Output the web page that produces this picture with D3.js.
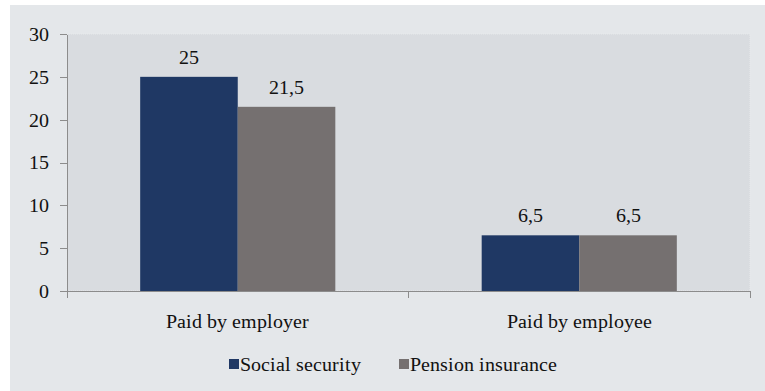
<!DOCTYPE html>
<html lang="en">
<head>
    <meta charset="UTF-8">
    <title>Contributions paid by employer and employee</title>
    <script src="https://d3js.org/d3.v7.min.js"></script>
    <style>
        @font-face {
            font-family: "ChartSerif";
            src: local("Liberation Serif"), local("LiberationSerif-Regular"), local("Times New Roman");
        }
        body { margin: 0; background: #ffffff; }
        svg text { font-family: "ChartSerif", "Liberation Serif", "Times New Roman", serif; }
        .axis path, .axis line { stroke: #8c8c8c; shape-rendering: crispEdges; }
    </style>
</head>
<body>
<script>
    // Chart data
    const categories = ["Paid by employer", "Paid by employee"];
    const series = ["Social security", "Pension insurance"];
    const socialSecurity = [25, 6.5];
    const pensionInsurance = [21.5, 6.5];
    const yTicks = [0, 5, 10, 15, 20, 25, 30];
    const colors = ["#1f3864", "#757070"];

    const fontSize = "20px";
    const width = 765, height = 391;
    const margin = { top: 34, right: 15, bottom: 100, left: 67 };

    const svg = d3.select("body").append("svg")
        .attr("width", width)
        .attr("height", height);

    // outer panel
    svg.append("rect")
        .attr("x", 10).attr("y", 5)
        .attr("width", width - 10).attr("height", height - 5)
        .attr("fill", "#e4e7ea");

    const x = d3.scaleBand()
        .domain(categories)
        .range([margin.left, width - margin.right]);

    const x1 = d3.scaleBand()
        .domain(series)
        .range([0, x.bandwidth()])
        .paddingOuter(0.75);

    const y = d3.scaleLinear()
        .domain([0, 30])
        .range([height - margin.bottom, margin.top]);

    // plot area
    svg.append("rect")
        .attr("x", margin.left).attr("y", margin.top)
        .attr("width", width - margin.right - margin.left)
        .attr("height", y(0) - margin.top)
        .attr("fill", "#d9dce0")
        .attr("stroke", "#e8eaec")
        .attr("stroke-dasharray", "1,1");

    const rows = categories.map((c, i) => ({
        category: c,
        values: [socialSecurity[i], pensionInsurance[i]]
    }));

    const groups = svg.selectAll(".group")
        .data(rows)
        .enter()
        .append("g")
        .attr("transform", d => `translate(${x(d.category)},0)`);

    groups.selectAll("rect")
        .data(d => d.values.map((v, j) => ({ series: series[j], value: v, j })))
        .enter()
        .append("rect")
        .attr("x", d => x1(d.series))
        .attr("width", x1.bandwidth())
        .attr("y", d => y(d.value))
        .attr("height", d => y(0) - y(d.value))
        .attr("fill", d => colors[d.j]);

    groups.selectAll(".label")
        .data(d => d.values.map((v, j) => ({ series: series[j], value: v })))
        .enter()
        .append("text")
        .attr("class", "label")
        .attr("text-anchor", "middle")
        .attr("x", d => x1(d.series) + x1.bandwidth() / 2)
        .attr("y", d => y(d.value) - 13)
        .attr("font-size", fontSize)
        .attr("fill", "#111")
        .text(d => String(d.value).replace(".", ","));

    // y axis
    svg.append("g")
        .attr("class", "axis")
        .attr("transform", `translate(${margin.left},0)`)
        .call(d3.axisLeft(y).tickValues(yTicks).tickSize(7).tickPadding(11).tickSizeOuter(0));

    // x axis with boundary ticks
    const xAxis = svg.append("g")
        .attr("class", "axis")
        .attr("transform", `translate(0,${y(0)})`)
        .call(d3.axisBottom(x).tickSize(0).tickPadding(23));
    xAxis.selectAll(".bound")
        .data([margin.left, x(categories[1]), width - margin.right])
        .enter()
        .append("line")
        .attr("x1", d => d).attr("x2", d => d)
        .attr("y1", 0).attr("y2", 7);

    svg.selectAll(".axis")
        .attr("font-family", null)
        .attr("font-size", null);
    svg.selectAll(".axis text")
        .attr("font-size", fontSize)
        .attr("fill", "#111");

    // legend
    const legendX = [229, 399];
    const legend = svg.selectAll(".legend")
        .data(series)
        .enter()
        .append("g")
        .attr("class", "legend")
        .attr("transform", (d, i) => `translate(${legendX[i]},364)`);

    legend.append("rect")
        .attr("x", 0).attr("y", -5)
        .attr("width", 10).attr("height", 10)
        .attr("fill", (d, i) => colors[i]);

    legend.append("text")
        .attr("x", 11)
        .attr("dy", "0.35em")
        .attr("font-size", fontSize)
        .attr("fill", "#111")
        .text(d => d);
</script>
</body>
</html>
